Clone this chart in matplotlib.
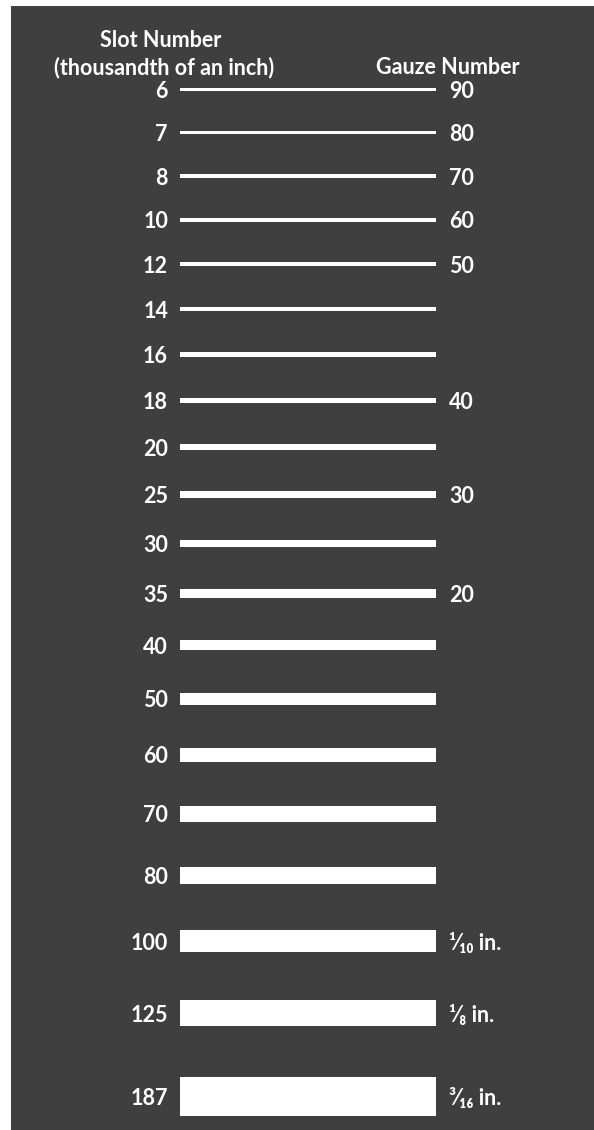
import matplotlib
matplotlib.use("Agg")
import matplotlib.pyplot as plt
from matplotlib.patches import Rectangle
import numpy as np

# ---- data ----
slot_numbers = [6, 7, 8, 10, 12, 14, 16, 18, 20, 25, 30, 35, 40, 50, 60, 70, 80, 100, 125, 187]
gauze_labels = ["90", "80", "70", "60", "50", "", "", "40", "", "30", "", "20",
                "", "", "", "", "", "\u00b9\u2044\u2081\u2080 in.", "\u00b9\u2044\u2088 in.", "\u00b3\u2044\u2081\u2086 in."]
left_title_1 = "Slot Number"
left_title_2 = "(thousandth of an inch)"
right_title = "Gauze Number"

# ---- style ----
BG = "#3f3f3f"
FG = "white"
FAM = ["Lato", "DejaVu Sans"]
FS = 15.5

W, H = 594, 1130
fig = plt.figure(figsize=(W / 100, H / 100), dpi=100)
fig.patch.set_facecolor("white")
ax = fig.add_axes([0, 0, 1, 1])
ax.set_xlim(0, W)
ax.set_ylim(H, 0)
ax.axis("off")

ax.add_patch(Rectangle((11, 6), W - 11, H - 6, facecolor=BG, edgecolor="none", zorder=0))

# layout derived from slot sizes: thickness grows with slot width,
# spacing grows slightly with size
s = np.array(slot_numbers, dtype=float)
thick = 0.2 * s + 1.8
step = 41.4 + 0.27 * (s[:-1] + s[1:]) / 2
centers = 89.5 + np.concatenate([[0], np.cumsum(step)])

bar_left, bar_len = 180, 256
ax.barh(centers, bar_len, left=bar_left, height=thick, color=FG, zorder=2)

for c, sn, g in zip(centers, slot_numbers, gauze_labels):
    ax.text(bar_left - 12, c, str(sn), ha="right", va="center_baseline", color=FG,
            fontsize=FS, fontweight="bold", family=FAM)
    if g:
        ax.text(bar_left + bar_len + 13, c, g, ha="left", va="center_baseline", color=FG,
                fontsize=FS, fontweight="bold", family=FAM)

ax.text(161, 47, left_title_1, ha="center", va="baseline", color=FG, fontsize=FS,
        fontweight="bold", family=FAM)
ax.text(164.5, 74, left_title_2, ha="center", va="baseline", color=FG, fontsize=FS,
        fontweight="bold", family=FAM)
ax.text(448, 74, right_title, ha="center", va="baseline", color=FG, fontsize=FS,
        fontweight="bold", family=FAM)

fig.savefig("out.png", dpi=100, facecolor=fig.get_facecolor())
